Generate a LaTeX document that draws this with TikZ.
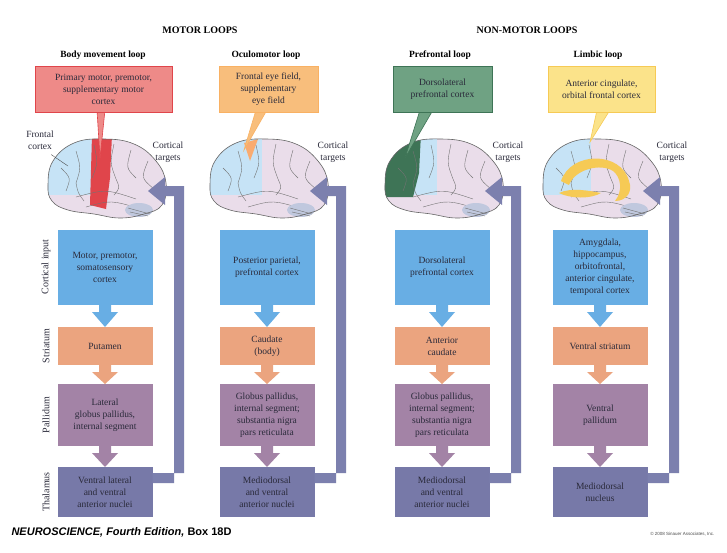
\documentclass[tikz,border=0pt]{standalone}
\usepackage{fontspec}
\setmainfont{Liberation Serif}
\newfontfamily\sansf{Liberation Sans}
\definecolor{cin}{HTML}{68AEE4}
\definecolor{str}{HTML}{EBA47F}
\definecolor{pal}{HTML}{A383A6}
\definecolor{tha}{HTML}{7779A8}
\definecolor{ret}{HTML}{7C80AE}
\definecolor{pinkb}{HTML}{EADDEA}
\definecolor{blueb}{HTML}{C6E3F6}
\definecolor{redc}{HTML}{EE8A88}
\definecolor{redb}{HTML}{E0454B}
\definecolor{oranc}{HTML}{F8BE7C}
\definecolor{greenc}{HTML}{6FA283}
\definecolor{greenb}{HTML}{3E7456}
\definecolor{yellc}{HTML}{FBE38A}
\definecolor{yellb}{HTML}{F6CA55}
\definecolor{txt}{HTML}{2A2A3A}
\tikzset{
 box/.style={minimum width=95pt,inner sep=1pt,align=center,font=\fontsize{9.5}{12}\selectfont,text=txt},
 side/.style={rotate=90,font=\fontsize{10}{11}\selectfont,text=txt},
 title/.style={font=\bfseries\fontsize{9.5}{11}\selectfont},
 lab/.style={align=center,font=\fontsize{9.5}{11.5}\selectfont,text=txt},
 call/.style={draw,line width=0.8pt,minimum width=#1,minimum height=46pt,align=center,font=\fontsize{9.5}{12}\selectfont,text=txt},
 gyr/.style={draw=black!55,line width=0.4pt},
}
\newcommand\blockarr[4]{% x, ytop, ybot, color
 \fill[#4] (#1-6,#2) -- (#1+6,#2) -- (#1+6,#2+7) -- (#1+13,#2+7) -- (#1,#3) -- (#1-13,#2+7) -- (#1-6,#2+7) -- cycle;}
\newcommand\loopcol[6]{% prefix, cx, cortical, striatum, pallidum, thalamus
 \node[box,fill=cin,minimum height=75pt] (#1ci) at (#2,267.5) {#3};
 \node[box,fill=str,minimum height=38pt] (#1st) at (#2,346) {#4};
 \node[box,fill=pal,minimum height=62pt] (#1pa) at (#2,415) {#5};
 \node[box,fill=tha,minimum height=50pt] (#1th) at (#2,492) {#6};
 \blockarr{#2}{305}{327}{cin}
 \blockarr{#2}{365}{384}{str}
 \blockarr{#2}{446}{467}{pal}
 \coordinate (#1ra) at (#2+47.5,473);
 \fill[ret] (#1ra) -- (#2+79,473) -- (#2+79,186) -- (#2+60,186) -- (#2+60,177) -- (#2+43,191) -- (#2+60,205) -- (#2+60,196) -- (#2+69,196) -- (#2+69,483) -- (#2+47.5,483) -- cycle;
}
\newcommand\brainshape{plot[smooth cycle,tension=0.7] coordinates {(-58,2) (-53,-22) (-32,-40) (-2,-44) (28,-39) (50,-22) (60,0) (56,22) (38,31) (14,35) (-12,31) (-38,27) (-54,18)}}
\newcommand\gyri{%
 \draw[gyr] (-45,-15) .. controls (-35,-5) .. (-40,8);
 \draw[gyr] (-30,-32) .. controls (-25,-15) .. (-30,0) .. controls (-28,10) .. (-22,18);
 \draw[gyr] (-12,-38) .. controls (-8,-20) .. (-14,-5);
 \draw[gyr] (8,-39) .. controls (4,-20) .. (10,-4) .. controls (14,5) .. (8,12);
 \draw[gyr] (25,-33) .. controls (20,-15) .. (30,-5);
 \draw[gyr] (42,-22) .. controls (35,-5) .. (48,6);
 \draw[gyr] (-30,14) .. controls (0,6) .. (30,16);
 \draw[gyr] (-20,24) .. controls (5,17) .. (35,26);
 \fill[blueb!40!tha!60] (33,27) ellipse (14 and 7);
 \draw[gyr] (22,25) -- (44,31) (24,29) -- (42,33);}
\begin{document}
\begin{tikzpicture}[x=1pt,y=-1pt]
\useasboundingbox (0,0) rectangle (727,552);
\fill[white] (0,0) rectangle (727,552);
% headers
\node[title,font=\bfseries\fontsize{10}{11}\selectfont] (h1) at (200,30) {MOTOR LOOPS};
\node[title,font=\bfseries\fontsize{10}{11}\selectfont] (h2) at (527,30) {NON-MOTOR LOOPS};
\node[title] (t1) at (103,55) {Body movement loop};
\node[title] (t2) at (266,55) {Oculomotor loop};
\node[title] (t3) at (440,55) {Prefrontal loop};
\node[title] (t4) at (598,55) {Limbic loop};
% side labels
\node[side] (s1) at (46,267) {Cortical input};
\node[side] (s2) at (46,346) {Striatum};
\node[side] (s3) at (46,415) {Pallidum};
\node[side] (s4) at (46,492) {Thalamus};
% brains
\begin{scope}[shift={(106,183)}]
 \fill[pinkb] \brainshape;
 \begin{scope}\clip \brainshape;
  \fill[blueb] (-70,-50) rectangle (-14,12);
  \fill[redb] (-14,-48) -- (6,-48) -- (4,-5) -- (0,26) -- (-16,22) -- cycle;
 \end{scope}
 \gyri
 \draw[black!60,line width=0.6pt] \brainshape;
\end{scope}
\begin{scope}[shift={(268,183)}]
 \fill[pinkb] \brainshape;
 \begin{scope}\clip \brainshape;
  \fill[blueb] (-70,-50) rectangle (-6,12);
  \fill[oranc!90!red] (-24,-40) -- (-10,-44) -- (-18,-22) -- cycle;
 \end{scope}
 \gyri
 \draw[black!60,line width=0.6pt] \brainshape;
\end{scope}
\begin{scope}[shift={(443,183)}]
 \fill[pinkb] \brainshape;
 \begin{scope}\clip \brainshape;
  \fill[blueb] (-70,-50) rectangle (-6,12);
  \fill[greenb] (-70,-50) -- (-22,-50) -- (-24,-10) -- (-30,14) -- (-70,14) -- cycle;
 \end{scope}
 \gyri
 \draw[black!60,line width=0.6pt] \brainshape;
\end{scope}
\begin{scope}[shift={(601,183)}]
 \fill[pinkb] \brainshape;
 \begin{scope}\clip \brainshape;
  \fill[blueb] (-70,-50) rectangle (-10,12);
 \end{scope}
 \gyri
 \fill[yellb] (-40,-2) .. controls (-30,-32) and (20,-32) .. (28,-2) .. controls (32,8) and (26,18) .. (14,18) .. controls (22,8) and (20,-6) .. (12,-12) .. controls (0,-20) and (-26,-14) .. (-32,2) -- cycle;
 \fill[yellb] (-42,10) .. controls (-30,4) and (-10,8) .. (0,10) .. controls (-10,16) and (-30,16) .. (-42,10) -- cycle;
 \draw[black!60,line width=0.6pt] \brainshape;
\end{scope}
% columns
\loopcol{a}{105}{Motor, premotor,\\somatosensory\\cortex}{Putamen}{Lateral\\globus pallidus,\\internal segment}{Ventral lateral\\and ventral\\anterior nuclei}
\loopcol{b}{267}{Posterior parietal,\\prefrontal cortex}{Caudate\\(body)}{Globus pallidus,\\internal segment;\\substantia nigra\\pars reticulata}{Mediodorsal\\and ventral\\anterior nuclei}
\loopcol{c}{442}{Dorsolateral\\prefrontal cortex}{Anterior\\caudate}{Globus pallidus,\\internal segment;\\substantia nigra\\pars reticulata}{Mediodorsal\\and ventral\\anterior nuclei}
\loopcol{d}{600}{Amygdala,\\hippocampus,\\orbitofrontal,\\anterior cingulate,\\temporal cortex}{Ventral striatum}{Ventral\\pallidum}{Mediodorsal\\nucleus}
% callouts
\fill[redc,draw=redb,line width=0.6pt] (97,110) -- (100,158) -- (105,110);
\node[call=137pt,fill=redc,draw=redb] (ca) at (103.5,89) {Primary motor, premotor,\\supplementary motor\\cortex};
\fill[oranc,draw=oranc!80!orange,line width=0.6pt] (256,110) -- (244,150) -- (267,110);
\node[call=99pt,fill=oranc,draw=oranc!80!orange] (cb) at (268.5,89) {Frontal eye field,\\supplementary\\eye field};
\fill[greenc,draw=greenb,line width=0.6pt] (420,110) -- (405,158) -- (433,110);
\node[call=99pt,fill=greenc,draw=greenb] (cc) at (442.5,89) {Dorsolateral\\prefrontal cortex};
\fill[yellc,draw=yellb,line width=0.6pt] (597,110) -- (590,142) -- (610,110);
\node[call=107pt,fill=yellc,draw=yellb] (cd) at (601.5,89) {Anterior cingulate,\\orbital frontal cortex};
% labels
\node[lab] (fc) at (40,140) {Frontal\\cortex};
\coordinate (fcp) at (68,166);
\draw[black!70,line width=0.4pt] (fc.south east) ++(-6,2) -- (fcp);
\node[lab] (ct1) at (168,152) {Cortical\\targets};
\node[lab] (ct2) at (333,152) {Cortical\\targets};
\node[lab] (ct3) at (508,152) {Cortical\\targets};
\node[lab] (ct4) at (672,152) {Cortical\\targets};
% footer
\node[anchor=west,font=\sansf\bfseries\fontsize{11}{12}\selectfont] (ft) at (8,532) {\itshape NEUROSCIENCE, Fourth Edition,\upshape{} Box 18D};
\node[anchor=east,font=\sansf\fontsize{4.5}{5}\selectfont,text=black!70] (cp) at (718,534) {\textcopyright{} 2008 Sinauer Associates, Inc.};
\end{tikzpicture}
\end{document}
